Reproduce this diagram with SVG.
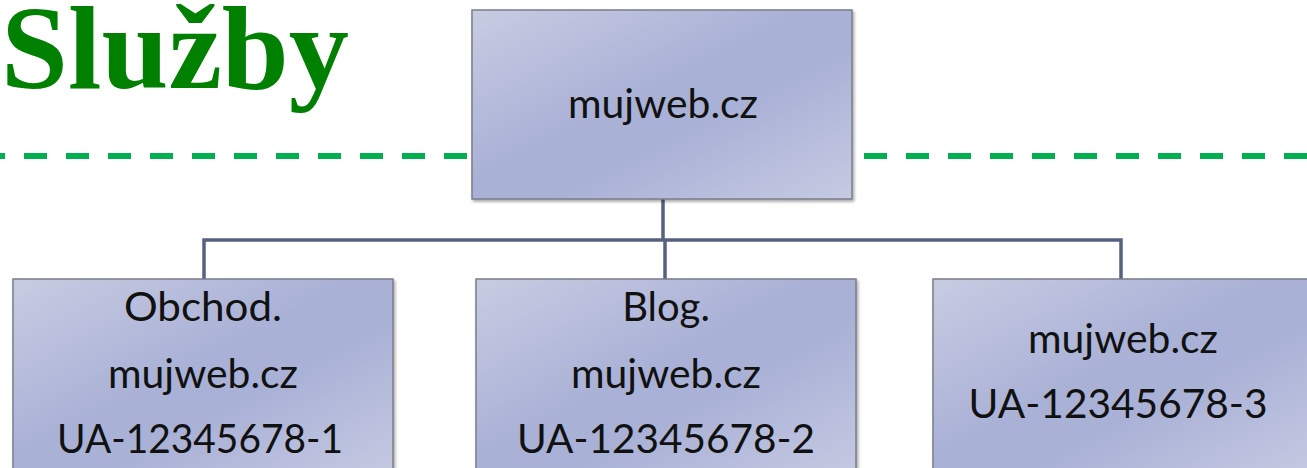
<svg xmlns="http://www.w3.org/2000/svg" width="1307" height="468" viewBox="0 0 1307 468">
<defs>
<linearGradient id="g" x1="0" y1="0" x2="1" y2="1">
<stop offset="0" stop-color="#c8cce2"/>
<stop offset="0.45" stop-color="#a9b1d6"/>
<stop offset="0.6" stop-color="#a9b1d6"/>
<stop offset="1" stop-color="#c6cae2"/>
</linearGradient>
<filter id="sh" x="-5%" y="-5%" width="110%" height="115%">
<feDropShadow dx="1.5" dy="2" stdDeviation="1.5" flood-color="#000" flood-opacity="0.35"/>
</filter>
</defs>
<style>
.box{fill:url(#g);stroke:#7b7d88;stroke-width:1.5;filter:url(#sh)}
.t{font-family:"Lato","Open Sans","Liberation Sans",sans-serif;font-size:40px;fill:#111;text-anchor:middle}
.c{fill:none;stroke:#56617f;stroke-width:3.5}
.dash{stroke:#00b050;stroke-width:6;stroke-dasharray:23 19;stroke-dashoffset:18}
</style>
<text x="1" y="88" font-family="'Liberation Serif',serif" font-weight="bold" font-size="118" fill="#008000" textLength="348" lengthAdjust="spacingAndGlyphs">Služby</text>
<line class="dash" x1="0" y1="156" x2="1307" y2="156"/>
<g id="connectors">
<path class="c" d="M663 199 V240"/>
<path class="c" d="M204 279 V240 H1121 V279"/>
<path class="c" d="M665 240 V279"/>
</g>
<g id="root">
<rect class="box" x="472" y="10" width="380" height="189"/>
<text class="t" x="663" y="118" textLength="190" lengthAdjust="spacingAndGlyphs">mujweb.cz</text>
</g>
<g id="child1">
<rect class="box" x="13" y="279" width="380" height="200"/>
<text class="t" x="203" y="321" textLength="158" lengthAdjust="spacingAndGlyphs">Obchod.</text>
<text class="t" x="203" y="388" textLength="190" lengthAdjust="spacingAndGlyphs">mujweb.cz</text>
<text class="t" x="200" y="453" textLength="286" lengthAdjust="spacingAndGlyphs">UA-12345678-1</text>
</g>
<g id="child2">
<rect class="box" x="476" y="279" width="380" height="200"/>
<text class="t" x="666" y="321">Blog.</text>
<text class="t" x="666" y="388" textLength="190" lengthAdjust="spacingAndGlyphs">mujweb.cz</text>
<text class="t" x="666" y="453" textLength="298" lengthAdjust="spacingAndGlyphs">UA-12345678-2</text>
</g>
<g id="child3">
<rect class="box" x="933" y="279" width="380" height="200"/>
<text class="t" x="1123" y="353" textLength="190" lengthAdjust="spacingAndGlyphs">mujweb.cz</text>
<text class="t" x="1118" y="418" textLength="299" lengthAdjust="spacingAndGlyphs">UA-12345678-3</text>
</g>
</svg>
